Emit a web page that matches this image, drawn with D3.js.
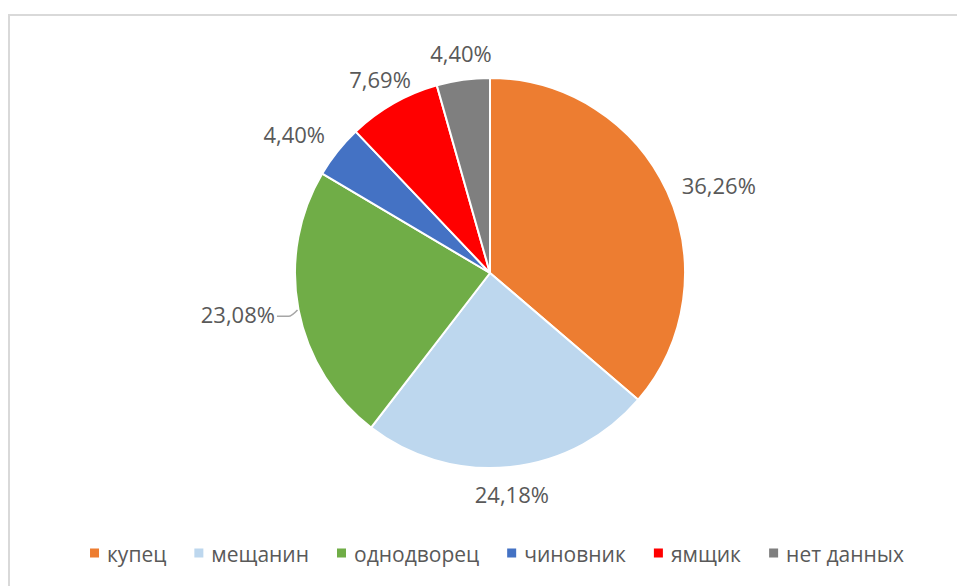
<!DOCTYPE html>
<html>
<head>
<meta charset="utf-8">
<title>Pie</title>
<script src="https://cdn.jsdelivr.net/npm/d3@7"></script>
<style>
    body { margin: 0; background: #fff; }
    text { font-family: "Open Sans", sans-serif; fill: #595959; }
</style>
</head>
<body>
<script>
    // данные
    var categories = ["купец", "мещанин", "однодворец", "чиновник", "ямщик", "нет данных"];
    var counts = [33, 22, 21, 4, 7, 4];
    var labels = ["36,26%", "24,18%", "23,08%", "4,40%", "7,69%", "4,40%"];
    var colors = ["#ED7D31", "#BDD7EE", "#70AD47", "#4472C4", "#FF0000", "#7F7F7F"];
    var withLeader = ["однодворец"];

    var width = 957, height = 586;
    var cx = 490, cy = 273, radius = 195;

    var svg = d3.select("body").append("svg")
        .attr("width", width)
        .attr("height", height);

    // рамка области диаграммы
    svg.append("rect")
        .attr("x", 9).attr("y", 15)
        .attr("width", width + 20).attr("height", height + 20)
        .attr("fill", "none")
        .attr("stroke", "#d9d9d9")
        .attr("stroke-width", 2);

    var dataset = categories.map(function (c, i) {
        return { name: c, value: counts[i], label: labels[i], color: colors[i] };
    });

    var pie = d3.pie().sort(null).value(function (d) { return d.value; });
    var piedata = pie(dataset);

    var arc = d3.arc().innerRadius(0).outerRadius(radius);

    var g = svg.append("g").attr("transform", "translate(" + cx + "," + cy + ")");

    g.selectAll("path")
        .data(piedata)
        .enter()
        .append("path")
        .attr("d", arc)
        .attr("fill", function (d) { return d.data.color; })
        .attr("stroke", "#fff")
        .attr("stroke-width", 2)
        .attr("stroke-linejoin", "round");

    // какой точкой рамки подпись "прислоняется" к лучу
    function side(t) {
        var v = Math.min(Math.max((Math.abs(t) - 0.45) / 0.25, 0), 1);
        return t < 0 ? -v : v;
    }

    // подписи снаружи
    var lbl = g.selectAll("text.lbl")
        .data(piedata)
        .enter()
        .append("text")
        .attr("class", "lbl")
        .attr("font-size", 22)
        .attr("text-anchor", "middle")
        .attr("dominant-baseline", "central")
        .text(function (d) { return d.data.label; });

    lbl.each(function (d) {
        var w = this.getComputedTextLength();
        var h = 22;
        var a = (d.startAngle + d.endAngle) / 2;
        var s = Math.sin(a), c = Math.cos(a);
        var extra = withLeader.indexOf(d.data.name) >= 0 ? 8 : 0;
        var dist = radius + 16 + extra;
        var x = dist * s + side(s) * w / 2;
        var y = -dist * c - side(c) * h / 2;
        d3.select(this).attr("x", x).attr("y", y);

        if (extra > 0) {
            var ex = (radius + 1) * s, ey = -(radius + 1) * c;
            var lx = x + (s < 0 ? w / 2 + 2 : -w / 2 - 2);
            var elbow = ex + (s < 0 ? -6 : 6);
            g.append("path")
                .attr("d", "M" + lx + "," + (y + 2) + "L" + (elbow - 3) + "," + (y + 2)
                    + "Q" + elbow + "," + (y + 2) + " " + ex + "," + ey)
                .attr("fill", "none")
                .attr("stroke", "#a6a6a6")
                .attr("stroke-width", 1.5);
        }
    });

    // легенда
    var legend = svg.append("g").attr("transform", "translate(0,553)");
    var items = legend.selectAll("g")
        .data(dataset)
        .enter()
        .append("g");
    items.append("rect")
        .attr("width", 9).attr("height", 9)
        .attr("y", -4.5)
        .attr("fill", function (d) { return d.color; });
    items.append("text")
        .attr("x", 17)
        .attr("y", 1)
        .attr("font-size", 21)
        .attr("dominant-baseline", "central")
        .text(function (d) { return d.name; });

    var offsets = [], total = 0, gap = 28;
    items.each(function () {
        var bw = this.getBBox().width;
        offsets.push(total);
        total += bw + gap;
    });
    total -= gap;
    var start = 497 - total / 2;
    items.attr("transform", function (d, i) { return "translate(" + (start + offsets[i]) + ",0)"; });
</script>
</body>
</html>
